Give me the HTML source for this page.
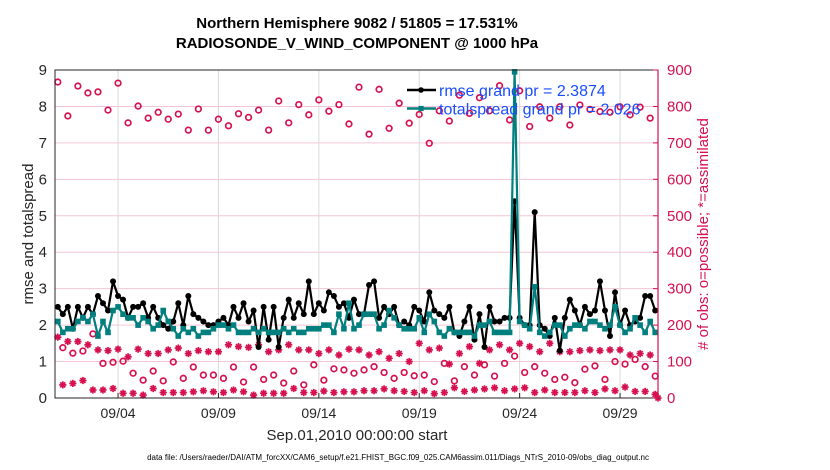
<!DOCTYPE html>
<html><head><meta charset="utf-8">
<style>
html,body{margin:0;padding:0;background:#fff;}
svg{display:block;font-family:"Liberation Sans",Arial,sans-serif;}
</style></head>
<body>
<svg id="chart" width="830" height="470" viewBox="0 0 830 470" xmlns="http://www.w3.org/2000/svg">
  <text x="357" y="28" text-anchor="middle" font-size="15" font-weight="bold" fill="#000">Northern Hemisphere 9082 / 51805 = 17.531%</text>
  <text x="357" y="48" text-anchor="middle" font-size="15" font-weight="bold" fill="#000">RADIOSONDE_V_WIND_COMPONENT @ 1000 hPa</text>
  <g id="grid"></g>
  <g id="marks"></g>
  <rect x="55" y="70" width="603" height="328" fill="none" stroke="#262626" stroke-width="1"/>
  <g id="axes"></g>
  <text transform="translate(33,234) rotate(-90)" text-anchor="middle" font-size="15" fill="#262626">rmse and totalspread</text>
  <text transform="translate(708,234) rotate(-90)" text-anchor="middle" font-size="15" fill="#d6114f"># of obs: o=possible; *=assimilated</text>
  <text x="357" y="440" text-anchor="middle" font-size="15" fill="#262626">Sep.01,2010 00:00:00 start</text>
  <text x="398" y="460" text-anchor="middle" font-size="8" fill="#000">data file: /Users/raeder/DAI/ATM_forcXX/CAM6_setup/f.e21.FHIST_BGC.f09_025.CAM6assim.011/Diags_NTrS_2010-09/obs_diag_output.nc</text>
  <g id="legend"></g>
</svg>
<script>
const xTickLabels = ["09/04","09/09","09/14","09/19","09/24","09/29"];
const xTickDays = [3,8,13,18,23,28];
const yLeftTicks = [0,1,2,3,4,5,6,7,8,9];
const yRightTicks = [0,100,200,300,400,500,600,700,800,900];
const rmse = [
2.5,2.3,2.5,1.9, 2.5,2.2,2.5,2.3, 2.8,2.6,2.4,3.2, 2.8,2.7,2.2,2.5,
2.5,2.6,2.2,2.5, 2.2,2.0,1.9,2.1, 2.6,2.0,2.8,2.3, 2.2,2.1,2.0,2.0,
2.1,2.2,2.0,2.5, 2.2,2.6,2.1,2.4, 1.4,2.5,1.6,2.5, 1.4,2.2,2.7,2.2,
2.6,2.3,3.2,2.3, 2.6,2.4,2.9,2.8, 2.5,2.6,2.2,2.7, 2.3,2.3,3.1,3.2,
2.2,2.5,2.3,2.5, 2.0,2.1,2.0,2.5, 2.4,2.1,2.9,2.4, 2.3,2.2,2.5,1.8,
1.7,2.1,2.5,1.6, 2.3,1.4,2.5,2.1, 2.1,2.2,2.2,5.4, 2.2,2.0,2.0,5.1,
2.0,1.9,1.7,2.2, 1.3,2.2,2.7,2.4, 2.0,2.5,2.3,2.4, 3.2,2.4,1.7,2.9,
2.0,2.4,2.0,2.1, 2.2,2.8,2.8,2.4];
const totalspread = [
2.1,1.8,1.9,1.9, 2.1,2.2,2.1,2.3, 1.7,2.1,1.8,2.4, 2.5,2.3,2.2,2.2,
2.0,2.2,2.1,1.9, 2.0,2.4,2.1,1.9, 1.7,1.9,1.8,1.9, 1.7,1.8,1.8,1.9,
2.0,2.0,1.9,2.0, 1.8,1.8,1.8,1.9, 1.8,1.9,1.8,1.8, 1.8,1.9,1.8,1.9,
1.8,1.8,1.9,1.9, 1.9,2.0,2.0,1.8, 2.3,1.9,2.6,1.9, 2.0,2.3,2.3,2.3,
1.9,2.0,2.4,2.2, 2.0,1.9,1.9,1.9, 2.2,1.8,2.3,2.1, 1.8,1.7,1.9,1.8,
1.8,1.8,1.8,1.7, 2.0,2.0,2.1,1.8, 1.8,1.8,1.8,8.95, 2.1,2.0,1.9,3.05,
1.8,1.7,1.8,2.0, 2.0,1.7,1.9,2.0, 2.0,1.9,2.1,2.1, 2.0,1.9,2.0,2.5,
2.0,1.8,1.9,2.2, 2.0,1.8,2.1,1.8];
const possibleHigh = [867,774,856,837,840,790,864,755,801,768,784,765,779,735,793,735,765,747,780,770,790,735,815,755,805,777,818,787,805,752,
853,724,847,740,809,754,778,699,788,760,831,781,824,788,857,763,843,745,799,768,799,749,804,792,786,784,799,777,798,768];
const possibleLow = [138,123,129,176,95,98,101,68,49,74,47,99,54,85,63,63,54,85,44,85,51,63,41,74,36,91,49,80,77,68,
77,86,70,54,70,61,63,45,95,47,86,63,91,60,95,115,70,86,68,51,57,42,79,88,51,100,93,106,86,60];
const assimHigh = [167,155,155,146,132,130,134,113,134,122,122,132,137,122,130,127,127,146,141,139,146,127,132,146,132,132,122,132,118,134,
132,118,127,109,122,100,150,132,137,93,122,141,95,132,146,132,150,141,127,150,127,127,130,132,130,132,132,118,122,118];
const assimLow = [36,40,48,22,22,26,13,13,8,26,15,15,15,17,20,17,15,22,17,8,13,13,13,26,15,15,19,15,17,17,
20,20,25,20,18,15,20,12,15,28,18,22,25,28,20,25,28,15,22,15,15,15,20,15,25,20,30,18,18,10];
const legendLabels = ["rmse grand pr = 2.3874","totalspread grand pr = 2.026"];

const NS="http://www.w3.org/2000/svg";
const L=55,R=658,T=70,B=398;
function xDay(d){return 57.8+d*20.08;}
function xIdx(i){return xDay(i*0.25);}
function yL(v){return B-(v/9)*(B-T);}
function yR(v){return B-(v/900)*(B-T);}
function mk(tag,attrs,parent){const e=document.createElementNS(NS,tag);for(const k in attrs)e.setAttribute(k,attrs[k]);parent.appendChild(e);return e;}
const grid=document.getElementById('grid'),marks=document.getElementById('marks'),axes=document.getElementById('axes'),legend=document.getElementById('legend');
const PINK="#d6114f";

yRightTicks.forEach((v,i)=>{
  if(i===0||i===yRightTicks.length-1)return;
  const g=mk('line',{x1:L,x2:R,y1:yR(v),y2:yR(v),stroke:"#f3c6d6","stroke-width":1},grid);
  
  
});
xTickDays.forEach(d=>{
  const g=mk('line',{x1:xDay(d),x2:xDay(d),y1:T,y2:B,stroke:"#d9d9d9","stroke-width":1},grid);
  
  
});

xTickDays.forEach((d,i)=>{
  const t=mk('line',{x1:xDay(d),x2:xDay(d),y1:B,y2:B-5,stroke:"#262626"},axes);
  
  
  const lb=mk('text',{x:xDay(d),y:418,"text-anchor":"middle","font-size":14,fill:"#262626"},axes);
  lb.textContent=xTickLabels[i];
  
  
});
yLeftTicks.forEach(v=>{
  const lb=mk('text',{x:47,y:yL(v)+5,"text-anchor":"end","font-size":15,fill:"#262626"},axes);
  lb.textContent=v;
  
  
});
mk('line',{x1:R,x2:R,y1:T,y2:B,stroke:PINK,"stroke-width":1.2},axes);
yRightTicks.forEach(v=>{
  const t=mk('line',{x1:R-5,x2:R,y1:yR(v),y2:yR(v),stroke:PINK},axes);
  
  
  const lb=mk('text',{x:667,y:yR(v)+5,"font-size":15,fill:PINK},axes);
  lb.textContent=v;
  
  
});

function star(cx,cy,parent){
  const g=mk('g',{stroke:PINK,"stroke-width":1.7},parent);
  const s=3.6;
  [[s,0],[0,s],[s*0.7,s*0.7],[s*0.7,-s*0.7]].forEach(([dx,dy])=>mk('line',{x1:cx-dx,y1:cy-dy,x2:cx+dx,y2:cy+dy},g));
  return g;
}
possibleHigh.forEach((v,i)=>{
  const c=mk('circle',{cx:xIdx(i*2),cy:yR(v),r:2.8,fill:"none",stroke:PINK,"stroke-width":1.7},marks);
  
  
});
possibleLow.forEach((v,i)=>{
  const c=mk('circle',{cx:xIdx(i*2+1),cy:yR(v),r:2.8,fill:"none",stroke:PINK,"stroke-width":1.7},marks);
  
  
});
assimHigh.forEach((v,i)=>{
  const g=star(xIdx(i*2),yR(v),marks);
  
  
});
assimLow.forEach((v,i)=>{
  const g=star(xIdx(i*2+1),yR(v),marks);
  
  
});
{const g=star(R,yR(0),marks);

}

function series(vals,color,name,sq){
  const pts=vals.map((v,i)=>xIdx(i).toFixed(1)+","+yL(v).toFixed(1)).join(" ");
  const pl=mk('polyline',{points:pts,fill:"none",stroke:color,"stroke-width":2.2,"stroke-linejoin":"round"},marks);
  
  
  vals.forEach((v,i)=>{
    let m;
    if(sq) m=mk('rect',{x:xIdx(i)-2.8,y:yL(v)-2.8,width:5.6,height:5.6,fill:color},marks);
    else m=mk('circle',{cx:xIdx(i),cy:yL(v),r:3,fill:color},marks);
    
    
  });
}
series(rmse,"#000","rmse",false);
series(totalspread,"#007f7f","totalspread",true);

[["#000",false],["#007f7f",true]].forEach(([c,sq],i)=>{
  const y=90+i*18.5;
  const ln=mk('line',{x1:407,x2:436,y1:y,y2:y,stroke:c,"stroke-width":2.4},legend);
  
  
  if(sq) mk('rect',{x:418.5,y:y-2.6,width:5.2,height:5.2,fill:c},legend);
  else mk('circle',{cx:421,cy:y,r:2.8,fill:c},legend);
  const t=mk('text',{x:439,y:y+6,"font-size":16,fill:"#1a4dff"},legend);
  t.textContent=legendLabels[i];
  
  
});
</script>
</body></html>
